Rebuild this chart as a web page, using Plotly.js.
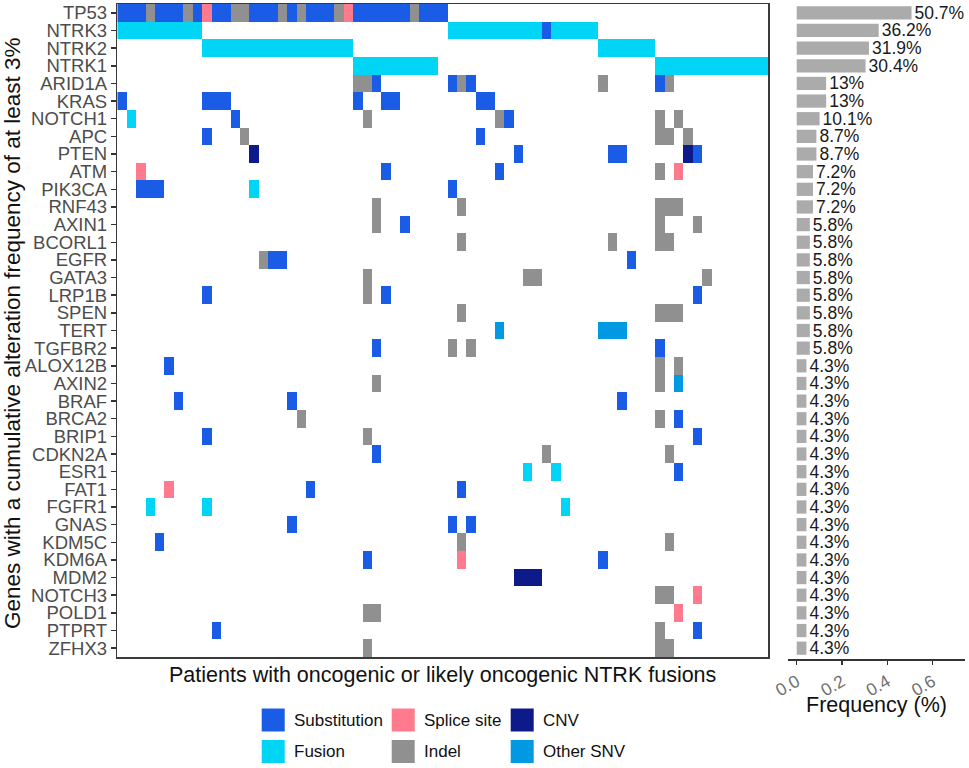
<!DOCTYPE html>
<html>
<head>
<meta charset="utf-8">
<script src="https://cdn.plot.ly/plotly-3.0.1.min.js"></script>
<style>html,body{margin:0;padding:0;background:#fff;}#chart{width:969px;height:768px;}</style>
</head>
<body>
<div id="chart"></div>
<script>
// ---------------- DATA ----------------
const genes = ["TP53","NTRK3","NTRK2","NTRK1","ARID1A","KRAS","NOTCH1","APC","PTEN","ATM","PIK3CA","RNF43","AXIN1","BCORL1","EGFR","GATA3","LRP1B","SPEN","TERT","TGFBR2","ALOX12B","AXIN2","BRAF","BRCA2","BRIP1","CDKN2A","ESR1","FAT1","FGFR1","GNAS","KDM5C","KDM6A","MDM2","NOTCH3","POLD1","PTPRT","ZFHX3"];
const nPatients = 69;
// alteration code per patient column (S=Substitution, F=Fusion, P=Splice site, I=Indel, C=CNV, O=Other SNV)
const alterations = [
  "S:0-2,4-6,8,10-11,14-16,18,20-22,25-30,32-34;I:3,7,12-13,17,19,23,31;P:9,24",
  "F:0-8,35-44,46-50;S:45",
  "F:9-24,51-56",
  "F:25-33,57-68",
  "I:25-26,36,51,58;S:27,35,37,57",
  "S:0,9-11,25,28-29,38-39",
  "F:1;S:12,41;I:26,40,57,59",
  "S:9,38;I:13,57-58,60",
  "C:14,60;S:42,52-53,61",
  "P:2,59;S:28,40;I:57",
  "S:2-4,35;F:14",
  "I:27,36,57-59",
  "I:27,57,61;S:30",
  "I:36,52,57-58",
  "I:15;S:16-17,54",
  "I:26,43-44,62",
  "S:9,28,61;I:26",
  "I:36,57-59",
  "O:40,51-53",
  "S:27,57;I:35,37",
  "S:5;I:57,59",
  "I:27,57;O:59",
  "S:6,18,53",
  "I:19,57;S:59",
  "S:9,61;I:26",
  "S:27;I:45,58",
  "F:43,46;S:59",
  "P:5;S:20,36",
  "F:3,9,47",
  "S:18,35,37",
  "S:4;I:36,58",
  "S:26,51;P:36",
  "C:42-44",
  "I:57-58;P:61",
  "I:26-27;P:59",
  "S:10,61;I:57",
  "I:26,57-58"
];
const freq = [0.507,0.362,0.319,0.304,0.13,0.13,0.101,0.087,0.087,0.072,0.072,0.072,0.058,0.058,0.058,0.058,0.058,0.058,0.058,0.058,0.043,0.043,0.043,0.043,0.043,0.043,0.043,0.043,0.043,0.043,0.043,0.043,0.043,0.043,0.043,0.043,0.043];
const freqLabels = ["50.7%","36.2%","31.9%","30.4%","13%","13%","10.1%","8.7%","8.7%","7.2%","7.2%","7.2%","5.8%","5.8%","5.8%","5.8%","5.8%","5.8%","5.8%","5.8%","4.3%","4.3%","4.3%","4.3%","4.3%","4.3%","4.3%","4.3%","4.3%","4.3%","4.3%","4.3%","4.3%","4.3%","4.3%","4.3%","4.3%"];
const typeCodes = ["S","F","P","I","C","O"];
const typeNames = ["Substitution","Fusion","Splice site","Indel","CNV","Other SNV"];
const typeColors = ["#1b5ce6","#00d5f6","#ff7a8c","#909090","#0f1a8a","#0099e2"];
const freqTicks = [0,0.2,0.4,0.6];
const freqTickText = ["0.0","0.2","0.4","0.6"];

// ---------------- BUILD ----------------
function parseRow(spec){
  const row = new Array(nPatients).fill(null);
  spec.split(";").forEach(part=>{
    const [t, list] = part.split(":");
    const code = typeCodes.indexOf(t)+1;
    list.split(",").forEach(r=>{
      const [a,b] = r.split("-").map(Number);
      const end = (b===undefined)?a:b;
      for(let i=a;i<=end;i++) row[i]=code;
    });
  });
  return row;
}
const z = alterations.map(parseRow);
const xs = Array.from({length:nPatients},(_,i)=>i);
const n = typeColors.length;
const colorscale = [];
typeColors.forEach((c,i)=>{ colorscale.push([i/n,c]); colorscale.push([(i+1)/n,c]); });

const W=969,H=768;
const px = x=>x/W, py = y=>1-y/H;

const heat = {
  type:"heatmap", x:xs, y:genes, z:z, zmin:0.5, zmax:n+0.5,
  colorscale:colorscale, showscale:false, hoverongaps:false, xaxis:"x", yaxis:"y"
};
const bars = {
  type:"bar", orientation:"h", x:freq, y:genes, width:0.75,
  marker:{color:"#ababab"}, text:freqLabels, textposition:"outside",
  textfont:{size:17.5,color:"#1a1a1a"}, constraintext:"none", cliponaxis:false,
  xaxis:"x2", yaxis:"y2", showlegend:false
};

const annotations = [
  {text:"Genes with a cumulative alteration frequency of at least 3%", xref:"paper", yref:"paper",
   x:px(12), y:py(333), textangle:-90, showarrow:false, xanchor:"center", yanchor:"middle",
   font:{size:22.5,color:"#111"}},
  {text:"Patients with oncogenic or likely oncogenic NTRK fusions", xref:"paper", yref:"paper",
   x:px(442.8), y:py(675), showarrow:false, xanchor:"center", yanchor:"middle",
   font:{size:21.5,color:"#111"}},
  {text:"Frequency (%)", xref:"paper", yref:"paper",
   x:px(876.5), y:py(705), showarrow:false, xanchor:"center", yanchor:"middle",
   font:{size:21.5,color:"#111"}}
];
const shapes = [];
// legend, 3 columns x 2 rows (column-major order)
const legCols = [261.7, 391.7, 510.7];
const legRows = [720, 751.5];
typeNames.forEach((name,i)=>{
  const col = Math.floor(i/2), row = i%2;
  const x0 = legCols[col], yc = legRows[row];
  shapes.push({type:"rect", xref:"paper", yref:"paper", x0:px(x0), x1:px(x0+23), y0:py(yc-11.5), y1:py(yc+11.5),
    fillcolor:typeColors[i], line:{width:0}});
  annotations.push({text:name, xref:"paper", yref:"paper", x:px(x0+30), y:py(yc), xanchor:"left", yanchor:"middle",
    showarrow:false, font:{size:17,color:"#111"}});
});

const layout = {
  width:W, height:H, margin:{l:0,r:0,t:0,b:0}, paper_bgcolor:"#fff", plot_bgcolor:"#fff",
  font:{family:"Liberation Sans, Arial, sans-serif"},
  showlegend:false,
  xaxis:{domain:[px(117.3),px(768.3)], range:[-0.5,nPatients-0.5], showticklabels:false, ticks:"",
    showgrid:false, zeroline:false, showline:true, mirror:true, linecolor:"#3a3a3a", linewidth:1.5, fixedrange:true},
  yaxis:{domain:[py(657),py(4)], type:"category", autorange:"reversed", tickmode:"array", tickvals:genes, ticktext:genes,
    ticks:"outside", ticklen:5,
    tickcolor:"#333", tickwidth:1.5, tickfont:{size:18.5,color:"#4d4d4d"}, showgrid:false, zeroline:false,
    showline:true, mirror:true, linecolor:"#3a3a3a", linewidth:1.5, automargin:false},
  xaxis2:{domain:[px(788),px(965)], range:[-0.0384,0.743], anchor:"y2", tickvals:freqTicks, ticktext:freqTickText,
    tickangle:-30, ticks:"outside", ticklen:4, tickcolor:"#333", tickwidth:1.2, tickfont:{size:17.5,color:"#707070"},
    showline:true, linecolor:"#333", linewidth:1.8, showgrid:false, zeroline:false, automargin:false},
  yaxis2:{domain:[py(659),py(4)], type:"category", range:[36.5+2/17.65,-0.5], anchor:"x2",
    showticklabels:false, ticks:"", showline:false, showgrid:false, zeroline:false},
  annotations:annotations, shapes:shapes
};
Plotly.newPlot("chart",[heat,bars],layout,{staticPlot:true,displayModeBar:false});
</script>
</body>
</html>
